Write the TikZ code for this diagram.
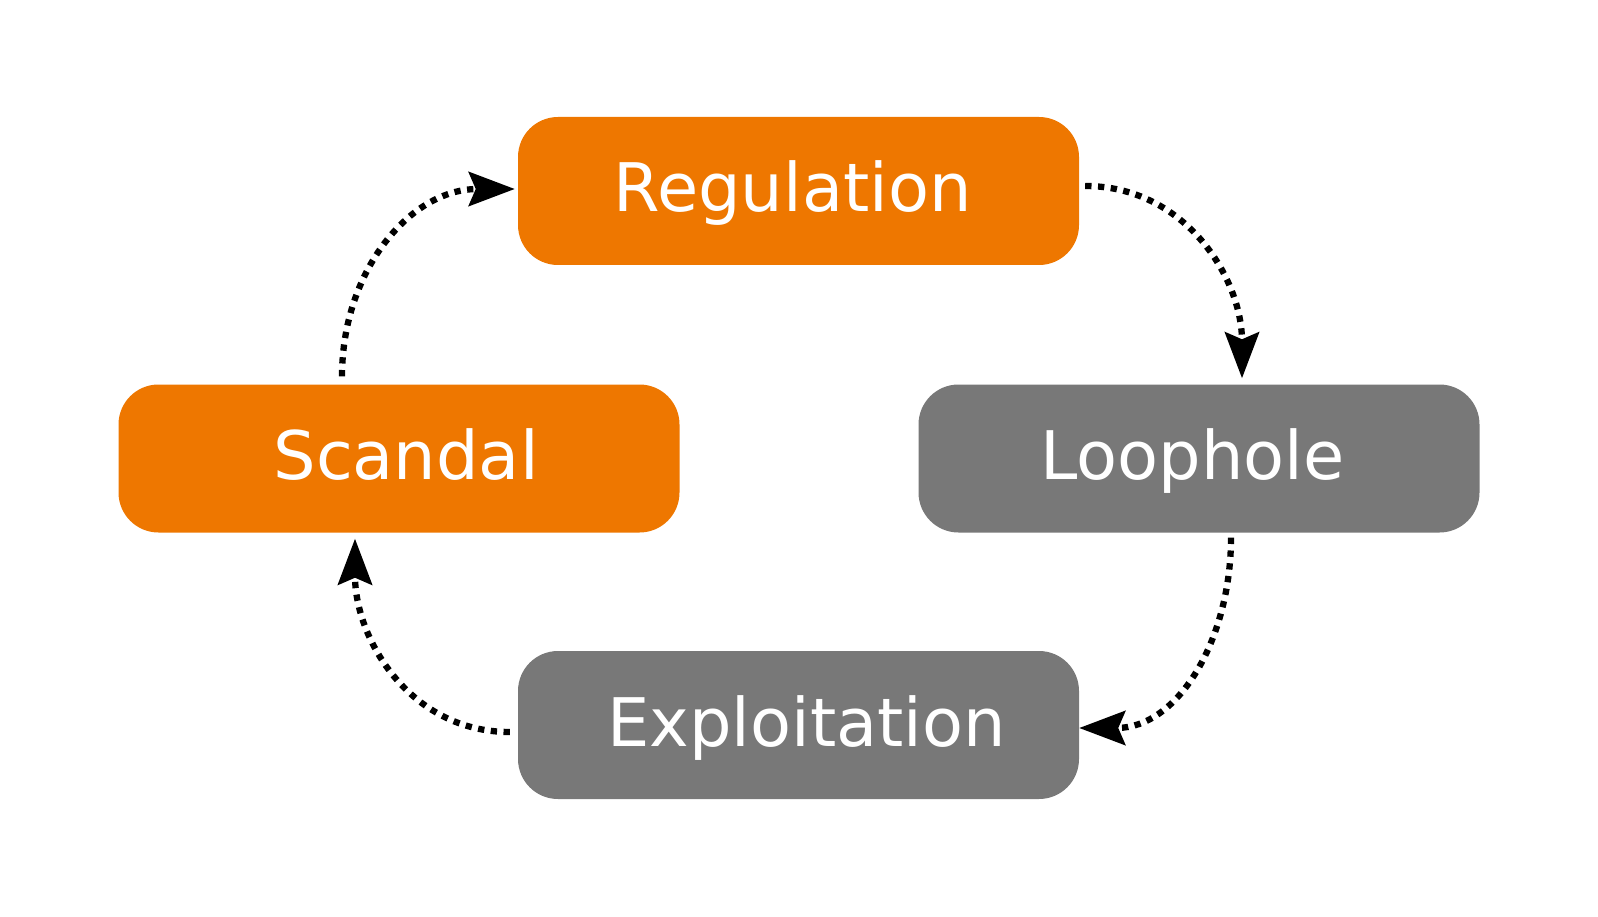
\documentclass[tikz,border=0pt]{standalone}
\usepackage{fontspec}
\setmainfont{DejaVu Sans}
\usetikzlibrary{arrows.meta}
\definecolor{boxorange}{RGB}{238,119,0}
\definecolor{boxgray}{RGB}{120,120,120}
\tikzset{
  box/.style={rounded corners=40pt, minimum width=561pt, minimum height=148pt, inner sep=0pt,
    text=white, font=\fontsize{67}{72}\selectfont, text height=50pt, text depth=8pt},
  obox/.style={box, fill=boxorange},
  gbox/.style={box, fill=boxgray},
  cycarrow/.style={line width=6.3pt, dash pattern=on 6.3pt off 6.5pt,
    -{Stealth[length=46pt,width=34pt,inset=7pt]}}
}
\begin{document}
\begin{tikzpicture}[x=1pt,y=-1pt]
\useasboundingbox (0,0) rectangle (1598,917);
\node[obox] (reg) at (798.5,191) {\hspace*{-12pt}Regulation};
\node[obox] (scan) at (399,458.5) {Scandal\hspace*{-14pt}};
\node[gbox] (loop) at (1199,458.5) {\hspace*{-13pt}Loophole};
\node[gbox] (expl) at (798.5,725) {Exploitation\hspace*{-16pt}};

\coordinate (a1s) at ([xshift=-57pt,yshift=8pt]scan.north);
\coordinate (a1e) at ([xshift=-3pt,yshift=2pt]reg.west);
\coordinate (a2s) at ([xshift=6pt,yshift=5pt]reg.east);
\coordinate (a2e) at ([xshift=43pt,yshift=6pt]loop.north);
\coordinate (a3s) at ([xshift=32pt,yshift=-5pt]loop.south);
\coordinate (a3e) at ([yshift=-3pt]expl.east);
\coordinate (a4s) at ([xshift=-8pt,yshift=-7pt]expl.west);
\coordinate (a4e) at ([xshift=-44pt,yshift=-6pt]scan.south);

\draw[cycarrow] (a1s) .. controls ([yshift=105pt]a1s) and ([xshift=-105pt]a1e) .. (a1e);
\draw[cycarrow] (a2s) .. controls ([xshift=100pt]a2s) and ([yshift=100pt]a2e) .. (a2e);
\draw[cycarrow] (a3s) .. controls ([yshift=-100pt]a3s) and ([xshift=100pt]a3e) .. (a3e);
\draw[cycarrow] (a4s) .. controls ([xshift=-100pt]a4s) and ([yshift=-100pt]a4e) .. (a4e);
\end{tikzpicture}
\end{document}
